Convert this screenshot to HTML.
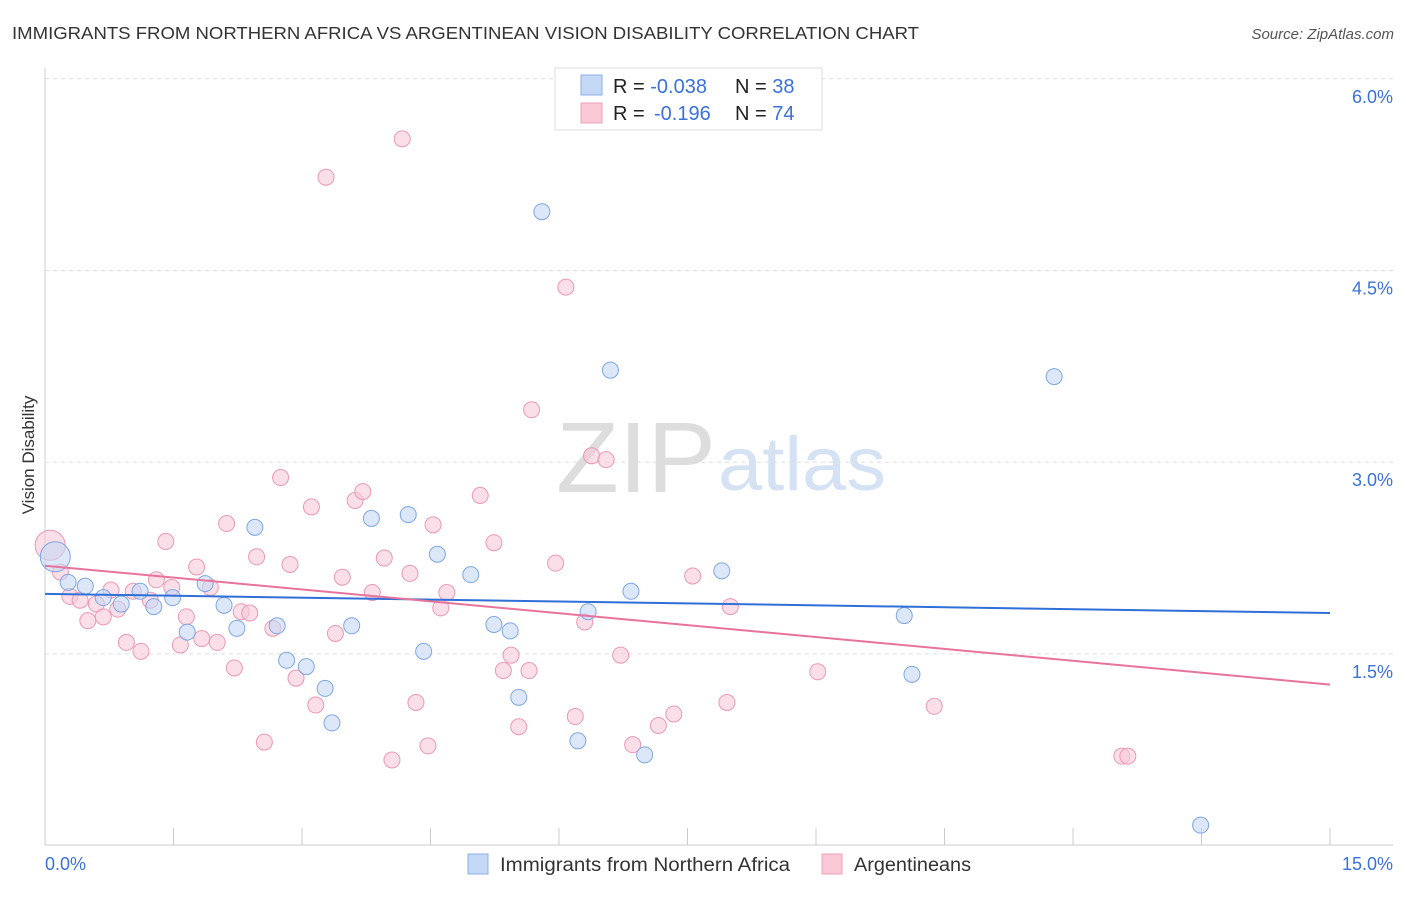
<!DOCTYPE html>
<html><head><meta charset="utf-8"><style>
body{margin:0;background:#fff;font-family:"Liberation Sans",sans-serif}
svg text{font-family:"Liberation Sans",sans-serif}
</style></head><body>
<svg id="c" width="1406" height="892" xmlns="http://www.w3.org/2000/svg">
<text x="12" y="39" font-size="17.5" textLength="907" lengthAdjust="spacingAndGlyphs" fill="#333">IMMIGRANTS FROM NORTHERN AFRICA VS ARGENTINEAN VISION DISABILITY CORRELATION CHART</text>
<text x="1394" y="39" font-size="15" font-style="italic" fill="#555" text-anchor="end">Source: ZipAtlas.com</text>
<text x="556" y="492" font-size="100" textLength="160" lengthAdjust="spacingAndGlyphs" fill="#ddd" font-family="Liberation Serif">ZIP</text>
<text x="718" y="490" font-size="76" textLength="168" lengthAdjust="spacingAndGlyphs" fill="#d5e2f4">atlas</text>
<text transform="translate(34,455) rotate(-90)" font-size="17" fill="#333" text-anchor="middle">Vision Disability</text>
<g id="grid"></g><g id="pts"></g><g id="lines"></g>
<g>
<rect x="555" y="68" width="267" height="62" fill="#fff" stroke="#ddd"/>
<rect x="581" y="75" width="21" height="20" fill="#c5d8f5" stroke="#8ab0e8"/>
<rect x="581" y="103" width="21" height="20" fill="#f9c9d8" stroke="#f0a0b9"/>
<text x="613" y="93" font-size="20" fill="#222">R = <tspan fill="#3a72d8">-0.038</tspan><tspan x="735">N = </tspan><tspan fill="#3a72d8">38</tspan></text>
<text x="613" y="120" font-size="20" fill="#222">R = <tspan x="654" fill="#3a72d8">-0.196</tspan><tspan x="735">N = </tspan><tspan fill="#3a72d8">74</tspan></text>
</g>
<g>
<rect x="468" y="854" width="20" height="20" fill="#c5d8f5" stroke="#8ab0e8"/>
<text x="500" y="871" font-size="19" textLength="290" lengthAdjust="spacingAndGlyphs" fill="#333">Immigrants from Northern Africa</text>
<rect x="822" y="854" width="20" height="20" fill="#f9c9d8" stroke="#f0a0b9"/>
<text x="854" y="871" font-size="19" textLength="117" lengthAdjust="spacingAndGlyphs" fill="#333">Argentineans</text>
</g>
</svg>
<script>
const xTicks=[0,1.5,3,4.5,6,7.5,9,10.5,12,13.5,15];
const yTicks=[1.5,3.0,4.5,6.0];
const blueX=[.12,.27,.47,.68,.89,1.11,1.27,1.49,1.66,1.87,2.09,2.24,2.45,2.71,2.82,3.05,3.27,3.35,3.58,3.81,4.24,4.42,4.58,4.97,5.24,5.43,5.53,5.80,6.22,6.34,6.60,6.84,7.00,7.90,10.03,10.12,11.78,13.49];
const blueY=[2.26,2.06,2.03,1.94,1.89,1.99,1.87,1.94,1.67,2.05,1.88,1.70,2.49,1.72,1.45,1.40,1.23,.96,1.72,2.56,2.59,1.52,2.28,2.12,1.73,1.68,1.16,4.96,.82,1.83,3.72,1.99,.71,2.15,1.80,1.34,3.67,.16];
const pinkX=[.06,.18,.29,.41,.50,.60,.68,.77,.85,.95,1.03,1.12,1.23,1.30,1.41,1.48,1.58,1.65,1.77,1.83,1.93,2.01,2.12,2.21,2.29,2.39,2.47,2.56,2.66,2.75,2.86,2.93,3.11,3.16,3.28,3.39,3.47,3.62,3.71,3.82,3.96,4.05,4.17,4.26,4.33,4.47,4.53,4.62,4.69,5.08,5.24,5.35,5.44,5.53,5.65,5.68,5.96,6.08,6.19,6.30,6.38,6.55,6.72,6.86,7.16,7.34,7.56,7.96,8.00,9.02,10.38,12.57,12.64];
const pinkY=[2.35,2.14,1.95,1.92,1.76,1.89,1.79,2.00,1.85,1.59,1.99,1.52,1.92,2.08,2.38,2.02,1.57,1.79,2.18,1.62,2.02,1.59,2.52,1.39,1.83,1.82,2.26,.81,1.70,2.88,2.20,1.31,2.65,1.10,5.23,1.66,2.10,2.70,2.77,1.98,2.25,.67,5.53,2.13,1.12,.78,2.51,1.86,1.98,2.74,2.37,1.37,1.49,.93,1.37,3.41,2.21,4.37,1.01,1.75,3.05,3.02,1.49,.79,.94,1.03,2.11,1.12,1.87,1.36,1.09,.70,.70];
const blueTrend=[1.97,1.82];
const pinkTrend=[2.19,1.26];
const X=v=>45+v/15*1285, Y=v=>845.6-v*127.8;
const NS="http://www.w3.org/2000/svg";
function mk(p,t,a){const e=document.createElementNS(NS,t);for(const k in a)e.setAttribute(k,a[k]);p.appendChild(e);return e;}
const grid=document.getElementById('grid'),pts=document.getElementById('pts'),lines=document.getElementById('lines');
let ax=mk(grid,'line',{x1:45,y1:68,x2:45,y2:845,stroke:'#ccc'});


let bx=mk(grid,'line',{x1:45,y1:845,x2:1393,y2:845,stroke:'#ccc'});


yTicks.forEach(v=>{
 let g=mk(grid,'line',{x1:45,x2:1393,y1:Y(v),y2:Y(v),stroke:'#ddd','stroke-dasharray':'4,4'});
 
 
 let t=mk(grid,'text',{x:1393,y:Y(v)+24,'font-size':18,fill:'#3a72d8','text-anchor':'end'});t.textContent=v.toFixed(1)+'%';
 
 
});
xTicks.forEach(v=>{
 let l=mk(grid,'line',{x1:X(v),x2:X(v),y1:828,y2:845,stroke:'#ccc'});
 
 
});
[[0,'0.0%','start',45],[15,'15.0%','end',1393]].forEach(([v,s,a,x])=>{
 let t=mk(grid,'text',{x:x,y:870,'font-size':18,fill:'#3a72d8','text-anchor':a});t.textContent=s;
 
 
});
function dots(xs,ys,f,s,n){xs.forEach((x,i)=>{
 let c=mk(pts,'circle',{cx:X(x),cy:Y(ys[i]),r:i==0?15:8,fill:f,stroke:s,'fill-opacity':0.6,'stroke-width':1});
 
 
});}
dots(pinkX,pinkY,'#f9c9d8','#eb98b4','point-argentineans');
dots(blueX,blueY,'#c5d8f5','#7fa6e3','point-northern-africa');
let b=mk(lines,'line',{x1:X(0),y1:Y(blueTrend[0]),x2:X(15),y2:Y(blueTrend[1]),stroke:'#2f6fd8','stroke-width':2});


let p=mk(lines,'line',{x1:X(0),y1:Y(pinkTrend[0]),x2:X(15),y2:Y(pinkTrend[1]),stroke:'#e8739b','stroke-width':2});


</script>
</body></html>
